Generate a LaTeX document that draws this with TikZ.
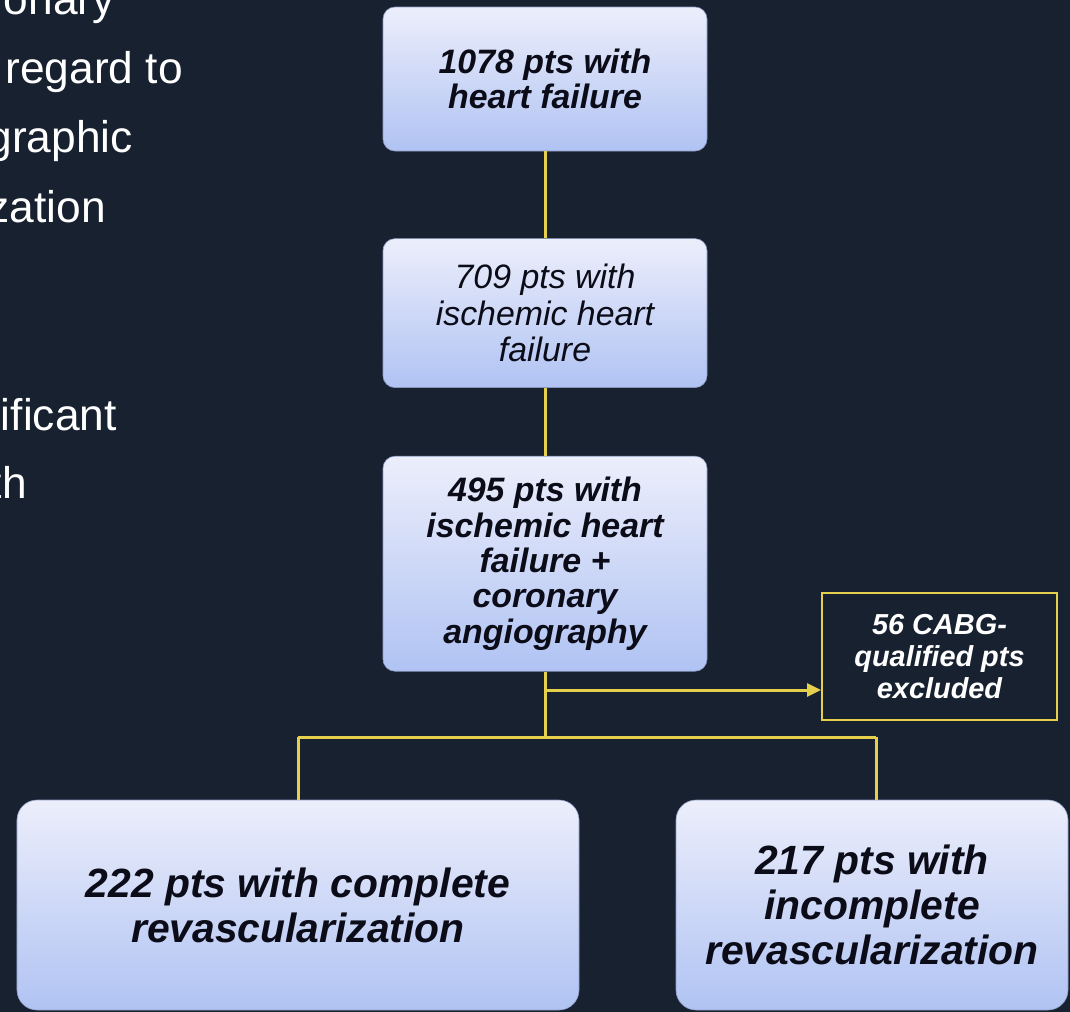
\documentclass[tikz,border=0pt]{standalone}
\usepackage{fontspec}
\setmainfont{Liberation Sans}
\usetikzlibrary{positioning, arrows.meta}
\definecolor{slate}{HTML}{172130}
\definecolor{paletop}{HTML}{ECEEFB}
\definecolor{palebot}{HTML}{B0C3F3}
\definecolor{edge}{HTML}{8E9CC4}
\definecolor{gold}{HTML}{E6CF4B}
\definecolor{ink}{HTML}{0B0C18}

\begin{document}
\begin{tikzpicture}[
      x=1bp, y=-1bp,
      >={Triangle[length=14bp,width=13bp]},
      flowbox/.style={draw=edge, line width=0.6bp, rounded corners=12bp,
                      top color=paletop, bottom color=palebot, text=ink,
                      align=center, inner sep=0pt, minimum width=324bp,
                      font=\fontsize{34}{35.5}\selectfont\bfseries\itshape},
      armbox/.style={flowbox, rounded corners=20bp, minimum height=210bp,
                     font=\fontsize{41}{45}\selectfont\bfseries\itshape},
      exbox/.style={draw=gold, line width=2bp, fill=slate, text=white,
                    align=center, inner sep=0pt,
                    minimum width=235bp, minimum height=127bp,
                    font=\fontsize{29}{32}\selectfont\bfseries\itshape},
      slidetxt/.style={text=white, inner sep=0pt, anchor=base east,
                       font=\fontsize{44.5}{50}\selectfont},
      link/.style={draw=gold, line width=3bp}
  ]
    \fill[slate] (0,0) rectangle (1070,1012);
    \useasboundingbox (0,0) rectangle (1070,1012);
    % slide text cut off at the left edge
    \node[slidetxt] (sA) at (115,14)  {onary};
    \node[slidetxt] (sB) at (183,83)  {regard to};
    \node[slidetxt] (sC) at (133,152) {graphic};
    \node[slidetxt] (sD) at (106,222) {zation};
    \node[slidetxt] (sE) at (117,430) {ificant};
    \node[slidetxt] (sF) at (27,498)  {th};
    % flow chart
    \node[flowbox, minimum height=144bp] (hf) at (545,79)
      {1078 pts with\\heart failure};
    \node[flowbox, minimum height=149bp, below=87bp of hf,
          font=\fontsize{34}{36.5}\selectfont\itshape] (ihf)
      {709 pts with\\ischemic heart\\failure};
    \node[flowbox, minimum height=215bp, below=68bp of ihf] (ihfca)
      {495 pts with\\ischemic heart\\failure +\\coronary\\angiography};
    \node[exbox] (excl) at (939.5,656.5) {56 CABG-\\qualified pts\\excluded};
    \node[armbox, minimum width=562bp] (crev) at (298,905)
      {222 pts with complete\\revascularization};
    \node[armbox, minimum width=392bp] (irev) at (872,905)
      {217 pts with\\incomplete\\revascularization};
    \coordinate (fork) at (545,737);
    \coordinate (tap) at (545,690);
    \coordinate (ldrop) at (298,737);
    \coordinate (rdrop) at (876,737);
    \draw[link] (hf) -- (ihf);
    \draw[link] (ihf) -- (ihfca);
    \draw[link] (ihfca.south) -- (fork);
    \draw[link] (ldrop) -- (rdrop);
    \draw[link] (ldrop) -- (crev.north);
    \draw[link] (rdrop) -- (rdrop |- irev.north);
    \draw[link, fill=gold, ->] (tap) -- (tap -| excl.west);
  \end{tikzpicture}
\end{document}
